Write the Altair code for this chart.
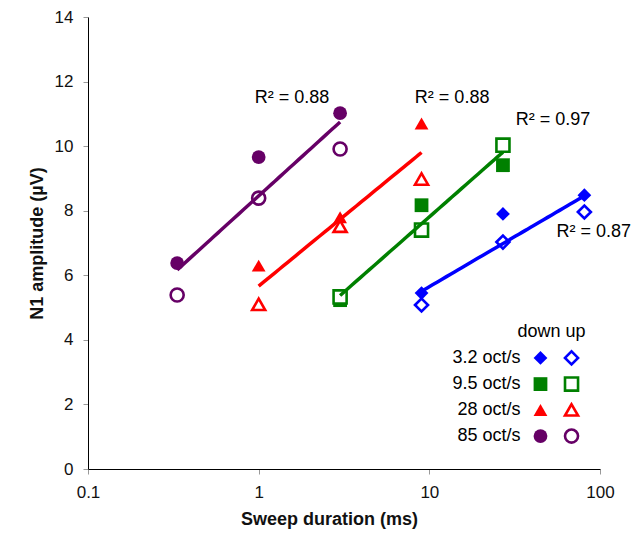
import altair as alt
import pandas as pd

# ---- data ----
series = ["3.2 oct/s", "9.5 oct/s", "28 oct/s", "85 oct/s"]
durations = {
    "3.2 oct/s": [9, 27, 81],
    "9.5 oct/s": [3, 9, 27],
    "28 oct/s": [1, 3, 9],
    "85 oct/s": [0.333, 1, 3],
}
down_vals = {
    "3.2 oct/s": [5.45, 7.9, 8.48],
    "9.5 oct/s": [5.23, 8.17, 9.41],
    "28 oct/s": [6.3, 7.8, 10.7],
    "85 oct/s": [6.38, 9.66, 11.02],
}
up_vals = {
    "3.2 oct/s": [5.08, 7.03, 7.96],
    "9.5 oct/s": [5.33, 7.4, 10.03],
    "28 oct/s": [5.1, 7.52, 8.98],
    "85 oct/s": [5.39, 8.39, 9.91],
}
colors = ["#0000FF", "#008000", "#FF0000", "#660066"]
shapes = ["diamond", "square", "triangle-up", "circle"]

r2_text = ["R² = 0.87", "R² = 0.97", "R² = 0.88", "R² = 0.88"]
r2_x = [92, 53, 13.6, 1.57]
r2_y = [7.34, 10.8, 11.49, 11.49]

legend_y = [3.44, 2.63, 1.83, 1.02]
legend_text_x = 34.2
legend_down_x = 44.8
legend_up_x = 68.1
legend_head = "down up"
legend_head_x = 52
legend_head_y = 4.24

FONT = "Liberation Sans"

rows = []
for s in series:
    for x, yd, yu in zip(durations[s], down_vals[s], up_vals[s]):
        rows.append({"series": s, "x": x, "y": yd, "dir": "down"})
        rows.append({"series": s, "x": x, "y": yu, "dir": "up"})
df = pd.DataFrame(rows)

r2_df = pd.DataFrame({"series": series, "t": r2_text, "x": r2_x, "y": r2_y})
leg_df = pd.DataFrame({"series": series, "y": legend_y,
                       "tx": [legend_text_x] * 4,
                       "dx": [legend_down_x] * 4,
                       "ux": [legend_up_x] * 4})
head_df = pd.DataFrame({"t": [legend_head], "x": [legend_head_x], "y": [legend_head_y]})

xscale = alt.Scale(type="log", domain=[0.1, 100])
yscale = alt.Scale(domain=[0, 14])
cscale = alt.Scale(domain=series, range=colors)
sscale = alt.Scale(domain=series, range=shapes)

X = alt.X("x:Q", scale=xscale, title="Sweep duration (ms)",
          axis=alt.Axis(values=[0.1, 1, 10, 100], format="~g", labelFlush=False,
                        titlePadding=10, titleX=241, titleAlign="center"))
Y = alt.Y("y:Q", scale=yscale, title="N1 amplitude (µV)",
          axis=alt.Axis(values=list(range(0, 15, 2)), titlePadding=8, labelFlush=False))

base = alt.Chart(df)

down = base.transform_filter(alt.datum.dir == "down").mark_point(
    filled=True, size=190, opacity=1
).encode(x=X, y=Y,
         color=alt.Color("series:N", scale=cscale, legend=None),
         shape=alt.Shape("series:N", scale=sscale, legend=None))

up = base.transform_filter(alt.datum.dir == "up").mark_point(
    filled=False, size=170, strokeWidth=2.6, opacity=1, fill="white"
).encode(x=X, y=Y,
         color=alt.Color("series:N", scale=cscale, legend=None),
         shape=alt.Shape("series:N", scale=sscale, legend=None))

trend = base.transform_regression(
    "x", "y", method="log", groupby=["series"]
).mark_line(strokeWidth=3.5).encode(
    x=X, y=Y, color=alt.Color("series:N", scale=cscale, legend=None),
    detail="series:N")

r2 = alt.Chart(r2_df).mark_text(font=FONT, fontSize=18, color="black",
                                align="center", baseline="middle").encode(
    x=alt.X("x:Q", scale=xscale), y=alt.Y("y:Q", scale=yscale), text="t:N")

leg_text = alt.Chart(leg_df).mark_text(font=FONT, fontSize=18, color="black",
                                       align="right", baseline="middle").encode(
    x=alt.X("tx:Q", scale=xscale), y=alt.Y("y:Q", scale=yscale), text="series:N")
leg_down = alt.Chart(leg_df).mark_point(filled=True, size=190, opacity=1).encode(
    x=alt.X("dx:Q", scale=xscale), y=alt.Y("y:Q", scale=yscale),
    color=alt.Color("series:N", scale=cscale, legend=None),
    shape=alt.Shape("series:N", scale=sscale, legend=None))
leg_up = alt.Chart(leg_df).mark_point(filled=False, size=170, strokeWidth=2.6,
                                      opacity=1, fill="white").encode(
    x=alt.X("ux:Q", scale=xscale), y=alt.Y("y:Q", scale=yscale),
    color=alt.Color("series:N", scale=cscale, legend=None),
    shape=alt.Shape("series:N", scale=sscale, legend=None))
leg_head = alt.Chart(head_df).mark_text(font=FONT, fontSize=18, color="black",
                                        align="center", baseline="middle").encode(
    x=alt.X("x:Q", scale=xscale), y=alt.Y("y:Q", scale=yscale), text="t:N")

chart = alt.layer(down, up, trend, r2, leg_text, leg_down, leg_up, leg_head).properties(
    width=512, height=452,
    autosize=alt.AutoSizeParams(type="none"),
    padding={"left": 80, "top": 9, "right": 34, "bottom": 64},
).configure_view(stroke=None).configure_axis(
    grid=False, domainColor="black", domainWidth=1, tickColor="#999999",
    tickSize=5, labelFont=FONT, labelFontSize=17, labelColor="#111111",
    labelPadding=10, titleFont=FONT, titleFontSize=18, titleFontWeight="bold",
    titleColor="#111111"
)

chart.save("out.html", embed_options={"renderer": "svg", "actions": False})
